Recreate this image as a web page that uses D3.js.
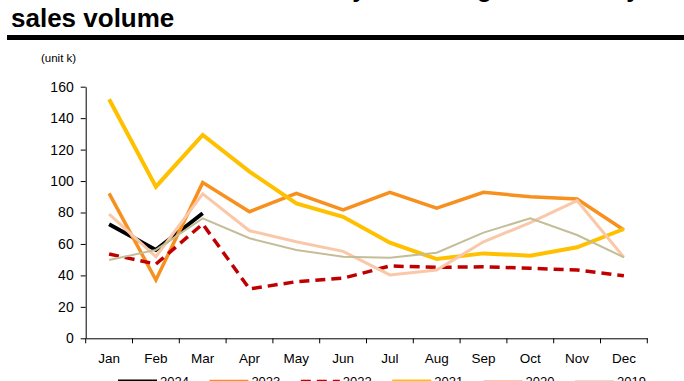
<!DOCTYPE html>
<html><head><meta charset="utf-8">
<script src="https://cdn.jsdelivr.net/npm/d3@7/dist/d3.min.js"></script>
<style>
html,body{margin:0;padding:0;background:#fff;overflow:hidden}
text{font-family:"Liberation Sans",Arial,sans-serif}
</style></head>
<body><svg id="c" width="684" height="381"></svg>
<script>
const months = ["Jan","Feb","Mar","Apr","May","Jun","Jul","Aug","Sep","Oct","Nov","Dec"];
const seriesNames = ["2024","2023","2022","2021","2020","2019"];
const v2024 = [72.5, 56.2, 79.5];
const v2023 = [92.2, 37.1, 99.0, 80.5, 92.2, 81.6, 92.8, 82.7, 92.8, 90.0, 88.6, 68.9];
const v2022 = [53.6, 47.2, 72.7, 31.4, 36.0, 38.2, 46.0, 45.1, 45.5, 44.5, 43.4, 39.8];
const v2021 = [152.0, 96.4, 129.3, 106.0, 85.8, 77.3, 60.8, 50.4, 54.0, 52.5, 57.9, 69.5];
const v2020 = [78.9, 51.9, 91.8, 68.4, 61.4, 55.3, 40.3, 43.4, 61.4, 73.5, 87.5, 51.5];
const v2019 = [49.8, 56.2, 76.3, 63.6, 56.2, 51.9, 51.3, 54.4, 67.2, 76.3, 65.7, 51.5];
const yTicks = [0,20,40,60,80,100,120,140,160];
const unitLabel = "(unit k)";
const titleLine1 = ["EV_ Korea", "monthly new", "registrations", "by"];
const titleLine2 = "sales volume";

const colors = ["#000000","#F7901E","#C00000","#FFC000","#FAC8A8","#C4BD97"];
const widths = [4, 3.5, 3.5, 4, 3, 2];
const dashes = [null, null, "10,6", null, null, null];
const seriesValues = [v2024, v2023, v2022, v2021, v2020, v2019];

const svg = d3.select("#c");

// title
const t1 = svg.append("text").attr("y", -3).attr("font-size", 25).attr("font-weight", "bold");
const t1x = [8, 269, 453, 611];
titleLine1.forEach((s,i)=> t1.append("tspan").attr("x", t1x[i]).text(s));
svg.append("text").attr("x", 11).attr("y", 27).attr("font-size", 26).attr("font-weight", "bold").text(titleLine2);
svg.append("rect").attr("x", 7).attr("y", 35).attr("width", 677).attr("height", 5).attr("fill", "#000");

svg.append("text").attr("x", 41).attr("y", 62).attr("font-size", 11.5).text(unitLabel);

const x = d3.scaleBand().domain(months).range([85.7, 647.3]).padding(0);
const y = d3.scaleLinear().domain([0,160]).range([338.3, 86.7]);

// y axis
const ya = svg.append("g").attr("transform", "translate(85.7,0)")
  .call(d3.axisLeft(y).tickValues(yTicks).tickSize(5).tickSizeOuter(0).tickPadding(7));
ya.selectAll("text").attr("font-size", 14).attr("font-family", "Liberation Sans, Arial, sans-serif").attr("fill","#000");
ya.selectAll("line,path").attr("stroke", "#000");

// x axis
const xa = svg.append("g").attr("transform", "translate(0,338.3)")
  .call(d3.axisBottom(x).tickSize(0).tickSizeOuter(0).tickPadding(15));
xa.selectAll("text").attr("font-size", 13.5).attr("font-family", "Liberation Sans, Arial, sans-serif").attr("fill","#000");
xa.select("path").attr("stroke", "#000");
const bounds = months.map(m => x(m)).concat([x.range()[1]]);
xa.selectAll("line.bnd").data(bounds).join("line").attr("class","bnd")
  .attr("x1", d=>d).attr("x2", d=>d).attr("y1", 0).attr("y2", 5).attr("stroke", "#000");

// lines
const line = d3.line().x((d,i)=> x(months[i]) + x.bandwidth()/2).y(d=>y(d));
seriesValues.forEach((vals, k) => {
  svg.append("path").datum(vals).attr("d", line)
    .attr("fill","none").attr("stroke", colors[k]).attr("stroke-width", widths[k])
    .attr("stroke-linejoin","miter").attr("stroke-dasharray", dashes[k]);
});

// legend
const lg = svg.append("g");
seriesNames.forEach((n,k)=>{
  const lx = 118 + k*91.4;
  lg.append("line").attr("x1", lx).attr("x2", lx+39).attr("y1", 381.5).attr("y2", 381.5)
    .attr("stroke", colors[k]).attr("stroke-width", widths[k]).attr("stroke-dasharray", dashes[k]);
  lg.append("text").attr("x", lx+42).attr("y", 385.5).attr("font-size", 13).text(n);
});
</script></body></html>
